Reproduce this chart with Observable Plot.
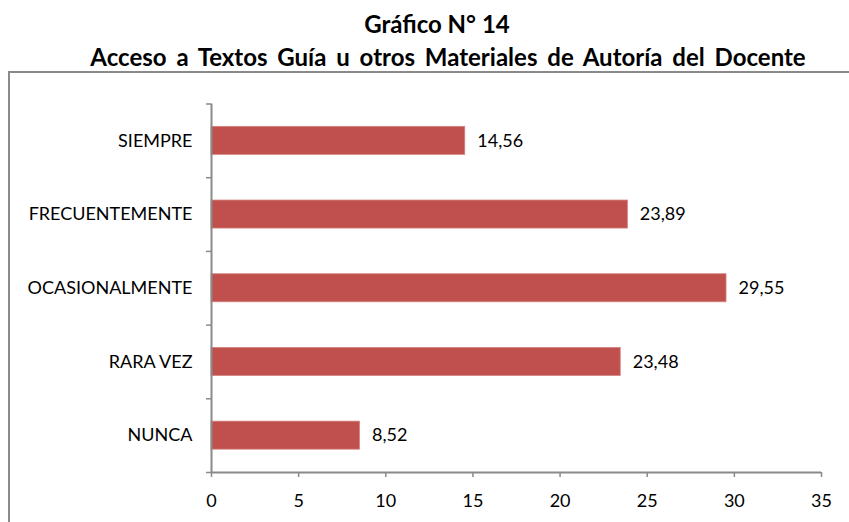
<!DOCTYPE html>
<html>
<head>
<meta charset="utf-8">
<script src="https://cdn.jsdelivr.net/npm/d3@7"></script>
<script src="https://cdn.jsdelivr.net/npm/@observablehq/plot@0.6"></script>
<style>
  html, body { margin: 0; padding: 0; background: #fff; }
  #wrap { position: relative; width: 849px; height: 522px; overflow: hidden; font-family: Lato, "Open Sans", sans-serif; }
  .t { position: absolute; white-space: nowrap; font-weight: bold; font-size: 24px; color: #000; transform: translateX(-50%); line-height: 1; }
  #t1 { left: 437px; top: 12px; }
  #t2 { left: 448px; top: 45px; word-spacing: 4px; }
  #frame { position: absolute; left: 8px; top: 71px; width: 900px; height: 500px; border-left: 2px solid #8a8a8a; border-top: 2px solid #8a8a8a; }
  #chart { position: absolute; left: 0; top: 72px; }
</style>
</head>
<body>
<div id="wrap">
  <div class="t" id="t1">Gráfico N° 14</div>
  <div class="t" id="t2">Acceso a Textos Guía u otros Materiales de Autoría del Docente</div>
  <div id="frame"></div>
  <div id="chart"></div>
</div>
<script>
const categories = ["NUNCA", "RARA VEZ", "OCASIONALMENTE", "FRECUENTEMENTE", "SIEMPRE"];
const values = [8.52, 23.48, 29.55, 23.89, 14.56];
const xTicks = [0, 5, 10, 15, 20, 25, 30, 35];

const data = categories.map((c, i) => ({ cat: c, i, v: values[i] }));
const fmt = v => v.toFixed(2).replace(".", ",");
const half = 0.19;
const gray = "#8a8a8a";

const plot = Plot.plot({
  width: 849,
  height: 450,
  marginLeft: 211,
  marginRight: 28,
  marginTop: 31.5,
  marginBottom: 50,
  style: { fontFamily: "Lato, 'Open Sans', sans-serif", fontSize: "18px", color: "#000", background: "transparent" },
  x: { domain: [0, 35] },
  y: { domain: [0, categories.length] },
  marks: [
    Plot.rectX(data, { x1: 0, x2: "v", y1: d => d.i + 0.5 - half, y2: d => d.i + 0.5 + half, fill: "#C0504D", stroke: "#D2807D", strokeWidth: 0.8 }),
    Plot.text(data, { x: "v", y: d => d.i + 0.5, text: d => fmt(d.v), textAnchor: "start", dx: 12, fill: "#000" }),
    Plot.text(data, { x: 0, y: d => d.i + 0.5, text: "cat", textAnchor: "end", dx: -19, fill: "#000" }),
    Plot.axisY({ ticks: d3.range(0, categories.length + 1), tickFormat: () => "", tickSize: 5, stroke: gray, strokeWidth: 1.5, label: null }),
    Plot.axisX({ ticks: xTicks, tickSize: 5, tickPadding: 17, stroke: gray, strokeWidth: 1.5, fill: "#000", label: null }),
    Plot.ruleX([0], { stroke: gray, strokeWidth: 2 }),
    Plot.ruleY([0], { stroke: gray, strokeWidth: 2 })
  ]
});
document.getElementById("chart").appendChild(plot);
</script>
</body>
</html>
